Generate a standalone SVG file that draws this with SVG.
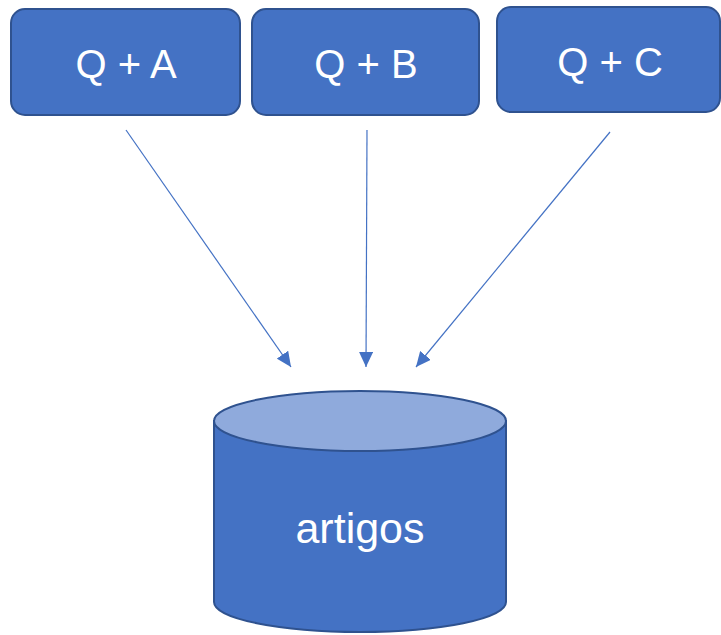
<svg xmlns="http://www.w3.org/2000/svg" width="721" height="635" viewBox="0 0 721 635">
<style>
.box{fill:#4472C4;stroke:#2F528F;stroke-width:2}
.lbl{font-family:"Liberation Sans",Arial,sans-serif;fill:#fff;text-anchor:middle}
.conn{stroke:#4472C4;stroke-width:1.2;fill:none;marker-end:url(#ah)}
</style>
<defs>
<marker id="ah" markerUnits="userSpaceOnUse" markerWidth="16" markerHeight="14" refX="15" refY="7" orient="auto">
<path d="M0,0 L15,7 L0,14 Z" fill="#4472C4"/>
</marker>
</defs>
<rect width="721" height="635" fill="#fff"/>
<g id="nodeA"><rect class="box" x="11" y="9" width="229" height="106" rx="14"/><text class="lbl" x="126" y="78" font-size="40">Q + A</text></g>
<g id="nodeB"><rect class="box" x="252" y="9" width="227" height="106" rx="14"/><text class="lbl" x="366" y="78" font-size="40">Q + B</text></g>
<g id="nodeC"><rect class="box" x="497" y="7" width="223" height="105" rx="14"/><text class="lbl" x="610" y="76" font-size="40">Q + C</text></g>
<g id="nodeArtigos">
<path class="box" d="M214,421 L214,602 A146,30 0 0 0 506,602 L506,421 Z"/>
<ellipse cx="360" cy="421" rx="146" ry="30" fill="#8FAADC" stroke="#2F528F" stroke-width="2"/>
<text class="lbl" x="360" y="543" font-size="43">artigos</text>
</g>
<g id="connectors">
<line class="conn" x1="126" y1="130" x2="291" y2="367"/>
<line class="conn" x1="367" y1="130" x2="366" y2="367"/>
<line class="conn" x1="610" y1="132" x2="416" y2="367"/>
</g>
</svg>
